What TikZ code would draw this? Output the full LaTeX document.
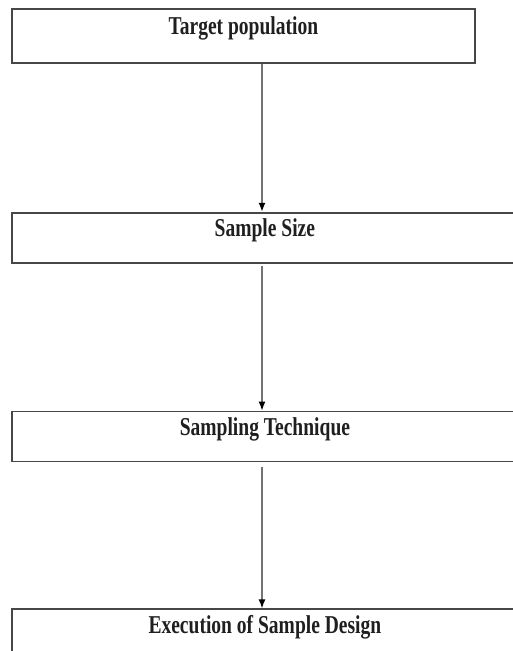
\documentclass[tikz,border=0pt]{standalone}
\usepackage{fontspec}
\setmainfont{Liberation Serif}[FakeStretch=0.76]
\usetikzlibrary{positioning,arrows.meta}

\begin{document}
\begin{tikzpicture}[x=1pt,y=1pt,node distance=147pt,
	stagebox/.style={draw=black!72,line width=1.8pt,rectangle,anchor=north west,
		minimum width=506pt,minimum height=50pt,inner sep=0pt,
		text height=18pt,text depth=20pt,text=black!88,
		font=\fontsize{25.7}{30}\selectfont\bfseries},
	flow/.style={-{Latex[length=9pt,width=7pt,black]},draw=black!55,line width=1.4pt}]

\useasboundingbox (0,0) rectangle (513,-651);
\clip (0,0) rectangle (513,-651);

\node[stagebox,minimum width=463pt,minimum height=54pt](target) at (11,-8){Target population};
\node[stagebox](size)[below=148pt of target.south west,anchor=north west]{Sample Size};
\node[stagebox](technique)[below=147pt of size.south west,anchor=north west]{Sampling Technique};
\node[stagebox](execution)[below=146pt of technique.south west,anchor=north west]{Execution of Sample Design};

\coordinate(axis) at (262,0);

\draw[flow](target.south -| axis)--(size.north -| axis);
\draw[flow]([yshift=-2pt]size.south -| axis)--(technique.north -| axis);
\draw[flow]([yshift=-5pt]technique.south -| axis)--(execution.north -| axis);

\end{tikzpicture}
\end{document}
